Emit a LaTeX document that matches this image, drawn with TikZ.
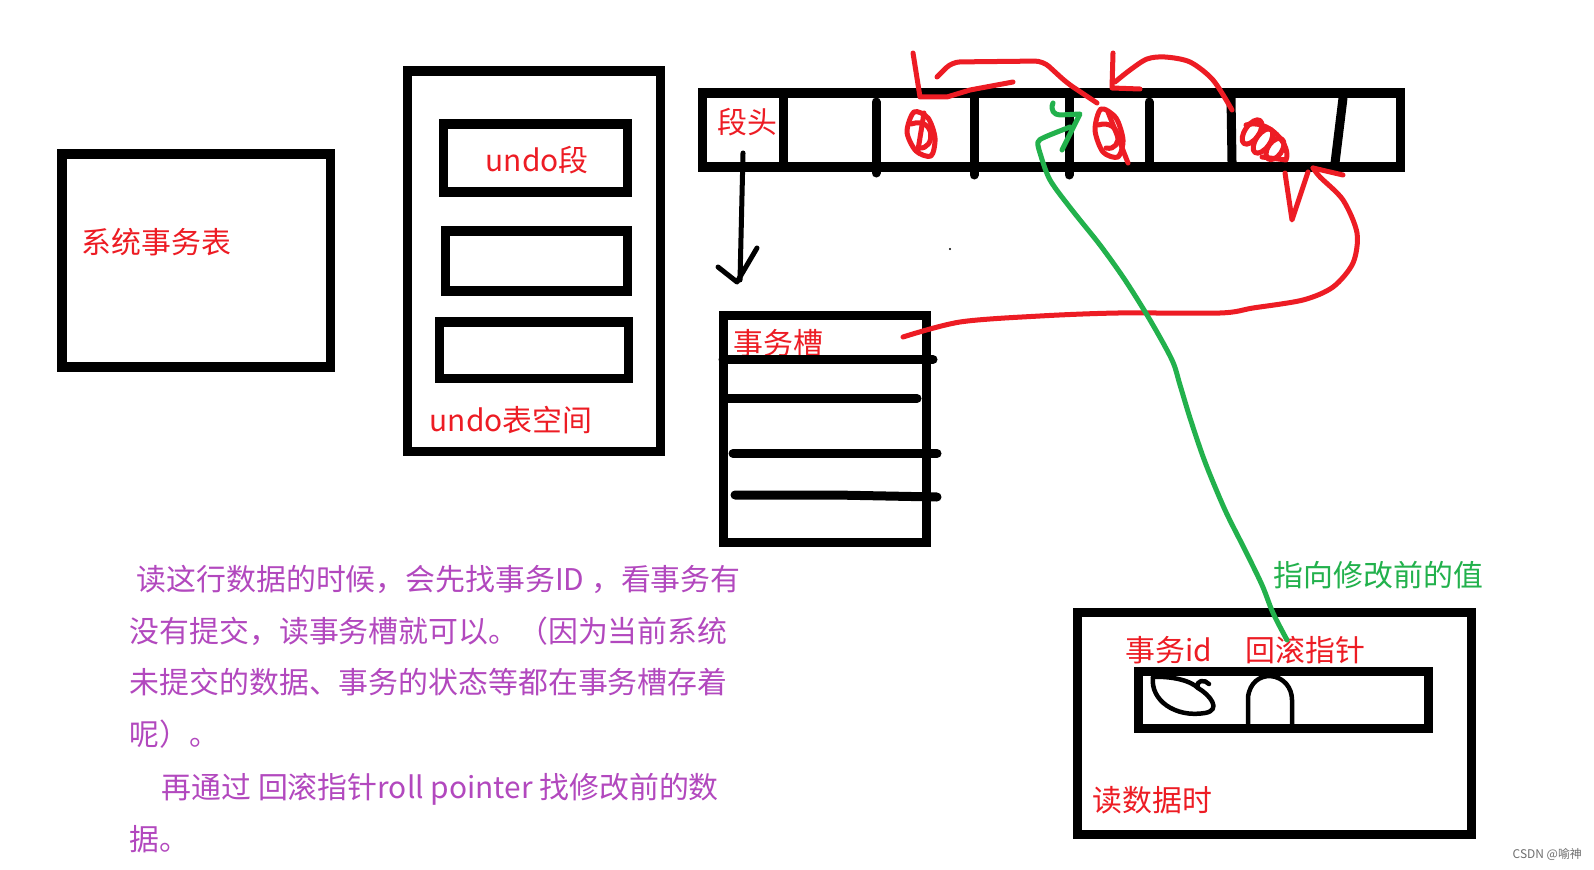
\documentclass[tikz,border=0pt]{standalone}
\usepackage{fontspec}
\setmainfont{Noto Sans CJK SC}
\usetikzlibrary{fit}
\definecolor{pred}{RGB}{237,28,36}
\definecolor{pgreen}{RGB}{34,177,76}
\definecolor{ppurple}{RGB}{178,72,190}
\definecolor{wmgray}{RGB}{110,110,110}
\begin{document}
\begin{tikzpicture}[x=0.01cm,y=-0.01cm,
 box/.style={draw=black,line width=0.09cm,inner sep=0pt},
 sepline/.style={draw=black,line width=0.09cm,line cap=round},
 blk/.style={draw=black,line width=0.05cm,line cap=round,line join=round},
 scr/.style={draw=black,line width=0.045cm,line cap=round,line join=round},
 rd/.style={draw=pred,line width=0.05cm,line cap=round,line join=round},
 gr/.style={draw=pgreen,line width=0.05cm,line cap=round,line join=round},
 lbl/.style={text=pred,font=\fontsize{8.5pt}{10pt}\selectfont,inner sep=0pt,anchor=base west},
 glbl/.style={text=pgreen,font=\fontsize{8.5pt}{10pt}\selectfont,inner sep=0pt,anchor=base west},
 para/.style={text=ppurple,font=\fontsize{8.5pt}{10pt}\selectfont,inner sep=0pt,anchor=base west},
]
\useasboundingbox[fill=white] (0,0) rectangle (1594,870);

% --- boxes ---
\node[box,fit={(62,154) (330,367)}] (systab) {};
\node[box,fit={(407.5,71) (660,451)}] (undosp) {};
\node[box,fit={(443,124) (627,192)}] (useg1) {};
\node[box,fit={(445,231) (627,291)}] (useg2) {};
\node[box,fit={(439.5,322) (628.7,378.5)}] (useg3) {};
\node[box,fit={(702.5,93) (1400,167)}] (segbar) {};
\node[box,fit={(723,315.5) (926,542)}] (slot) {};
\node[box,fit={(1077,612) (1471,834)}] (readbox) {};
\node[box,fit={(1138,671) (1428,728)}] (rowbar) {};

% --- labels ---
\node[lbl] (tsys) at (81,253) {系统事务表};
\node[lbl] (tuseg) at (485,172) {undo段};
\node[lbl] (tusp) at (429,431) {undo表空间};
\node[lbl] (thead) at (717,134) {段头};
\node[lbl] (tslot) at (733,354) {事务槽};
\node[lbl] (ttid) at (1125,661) {事务id};
\node[lbl] (troll) at (1245,661) {回滚指针};
\node[lbl] (tread) at (1092,811) {读数据时};
\node[glbl] (tprev) at (1273,586) {指向修改前的值};

\node[para] (p1) at (136,590) {读这行数据的时候，会先找事务ID ，看事务有};
\node[para] (p2) at (129,642) {没有提交，读事务槽就可以。（因为当前系统};
\node[para] (p3) at (129,693) {未提交的数据、事务的状态等都在事务槽存着};
\node[para] (p4) at (129,745) {呢）。};
\node[para] (p5) at (161,798) {再通过 回滚指针roll pointer 找修改前的数};
\node[para] (p6) at (129,850) {据。};

\node[text=wmgray,font=\fontsize{3.4pt}{4pt}\selectfont,inner sep=0pt,anchor=base west] (wm) at (1512,858) {CSDN @喻神};

% --- segment bar separators ---
\draw[sepline,line cap=butt] (783,93) -- (783,167);
\draw[sepline] (876,102) -- (876,173);
\draw[sepline] (974,97) -- (974,175);
\draw[sepline] (1069,97) -- (1069,175);
\draw[sepline] (1149,102) -- (1149,162);
\draw[sepline] (1231,98) -- (1232,162);
\draw[sepline] (1343,98) -- (1335,163);

% --- transaction slot rows ---
\draw[sepline] (723,359.5) -- (933,359.5);
\draw[sepline] (728,398.5) -- (917,398.5);
\draw[sepline] (733,453.5) -- (937,453.5);
\draw[sepline] (735,495) -- (835,495) -- (937,497);

% --- black arrow from segment header to slot ---
\coordinate (hd1) at (743,153);
\coordinate (hd2) at (740,280);
\draw[blk] (hd1) -- (hd2);
\draw[blk] (718,267) -- (737,282) -- (757,248);
\fill (950,249) circle[radius=0.012cm];

% --- red scribbles in cells ---
\draw[rd] plot[smooth cycle] coordinates {(914,112) (928,118) (935,138) (931,156) (916,151) (907,132)};
\draw[rd] (911,124) .. controls (936,116) and (936,150) .. (919,148);
\draw[rd] (924,113) -- (918,150);
\draw[rd] plot[smooth cycle] coordinates {(1101,109) (1116,118) (1123,140) (1118,157) (1103,152) (1095,130)};
\draw[rd] (1098,125) .. controls (1122,118) and (1124,152) .. (1106,148);
\draw[rd] (1108,112) -- (1128,163);
\draw[rd,rotate around={-35:(1252,132)}] (1252,132) ellipse[x radius=0.07cm, y radius=0.14cm];
\draw[rd,rotate around={-35:(1263,141)}] (1263,141) ellipse[x radius=0.07cm, y radius=0.14cm];
\draw[rd,rotate around={-35:(1275,149)}] (1275,149) ellipse[x radius=0.07cm, y radius=0.12cm];
\draw[rd] (1246,125) .. controls (1268,118) and (1292,145) .. (1286,160) -- (1262,157);

% --- red arrow 1 (cell 3 -> cell 1) ---
\coordinate (ra1s) at (1097,103);
\coordinate (ra1e) at (937,77);
\draw[rd,rounded corners=0.08cm] (ra1s) -- (1067,83) -- (1043,61) -- (952,62) -- (ra1e);
\draw[rd] (913,53) -- (920,97) -- (947,97) -- (970,90) -- (1013,82);

% --- red arrow 2 (cell 5 -> cell 3) ---
\coordinate (ra2s) at (1232,110);
\coordinate (ra2e) at (1115,82);
\draw[rd] plot[smooth] coordinates {(ra2s) (1213,80) (1190,62) (1165,57) (1147,59) (1130,70) (ra2e)};
\draw[rd] (1113,53) -- (1112,88) -- (1140,89);

% --- red curve from transaction slot to bar ---
\coordinate (rcs) at (903,337);
\coordinate (rce) at (1313,168);
\draw[rd] plot[smooth] coordinates {(rcs) (960,322) (1040,316) (1118,313) (1220,313) (1253,308) (1303,300) (1333,287) (1353,263) (1357,233) (1343,200) (1320,177) (rce)};
\draw[rd] (rce) -- (1343,175);
\draw[rd] (1285,173) -- (1292,220) -- (1308,172);

% --- green curve from rollback pointer to bar ---
\coordinate (gs) at (1287,640);
\coordinate (ge) at (1070,127);
\draw[gr] plot[smooth] coordinates {(gs) (1273,613) (1262,585) (1245,550) (1225,510) (1205,462) (1190,418) (1180,385) (1172,360) (1150,320) (1125,280) (1100,245) (1072,210) (1050,180) (1040,153) (1038,142) (1045,137) (ge)};
\draw[gr] (1053,103) .. controls (1050,110) and (1054,115) .. (1060,115) -- (1080,114) -- (1062,150);

% --- scribbles in row bar ---
\draw[scr] (1153,677) .. controls (1150,700) and (1175,718) .. (1205,713) .. controls (1222,710) and (1210,695) .. (1198,688) .. controls (1195,680) and (1205,679) .. (1209,684);
\draw[scr] (1153,677) .. controls (1170,676) and (1190,680) .. (1198,688);
\draw[scr] (1248,724) -- (1248,697) .. controls (1250,682) and (1260,676) .. (1270,676) .. controls (1284,677) and (1292,688) .. (1292,700) -- (1292,724);
\end{tikzpicture}
\end{document}
